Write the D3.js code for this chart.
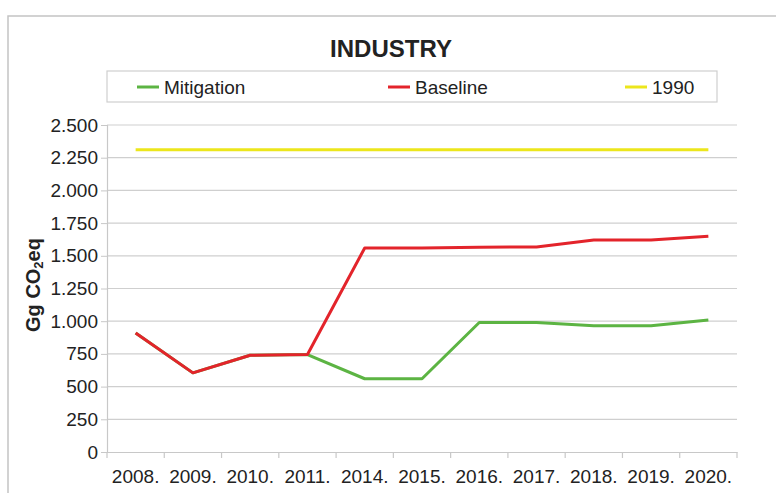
<!DOCTYPE html>
<html><head><meta charset="utf-8">
<script src="https://cdn.jsdelivr.net/npm/d3@7"></script>
<style>
body{margin:0;background:#fff;}
text{font-family:"Liberation Sans",Arial,sans-serif;fill:#222;}
</style></head>
<body><svg id="c" width="776" height="493"></svg>
<script>
const categories = ["2008.","2009.","2010.","2011.","2014.","2015.","2016.","2017.","2018.","2019.","2020."];
const mitigation = [910,605,740,745,560,560,990,990,965,965,1010];
const baseline   = [910,605,740,745,1560,1560,1565,1568,1620,1620,1650];
const ref1990    = [2310,2310,2310,2310,2310,2310,2310,2310,2310,2310,2310];
const yTicks = [0,250,500,750,1000,1250,1500,1750,2000,2250,2500];
const yTickLabels = ["0","250","500","750","1.000","1.250","1.500","1.750","2.000","2.250","2.500"];
const seriesNames = ["Mitigation","Baseline","1990"];
const seriesColors = ["#5cb443","#e3242b","#ece61c"];

const svg = d3.select("#c");
// outer frame
svg.append("rect").attr("x",8).attr("y",16).attr("width",800).attr("height",500)
  .attr("fill","#fff").attr("stroke","#c4c4c4").attr("stroke-width",1.5);

const L=107, R=737, T=125, B=452;
const x = d3.scaleBand().domain(categories).range([L,R]);
const y = d3.scaleLinear().domain([0,2500]).range([B,T]);

// gridlines
svg.append("g").selectAll("line").data(yTicks.filter(d=>d>0)).join("line")
  .attr("x1",L).attr("x2",R).attr("y1",d=>y(d)).attr("y2",d=>y(d))
  .attr("stroke","#cfcfcf").attr("stroke-width",1.2);

// y axis
const yAxis = d3.axisLeft(y).tickValues(yTicks).tickFormat((d,i)=>yTickLabels[i]).tickSize(6).tickPadding(3);
const gy = svg.append("g").attr("transform",`translate(${L},0)`).call(yAxis);
gy.select(".domain").attr("stroke","#c8c8c8").attr("stroke-width",1.2);
gy.selectAll(".tick line").attr("stroke","#c8c8c8");
gy.selectAll("text").style("font-size","19px").attr("fill","#222");

// x axis
const xAxis = d3.axisBottom(x).tickSize(0).tickPadding(18);
const gx = svg.append("g").attr("transform",`translate(0,${B})`).call(xAxis);
gx.select(".domain").attr("stroke","#c8c8c8").attr("stroke-width",1.2);
gx.selectAll("text").style("font-size","19px").attr("fill","#222");
// category boundary ticks
const bounds = categories.map(c=>x(c)).concat([R]);
svg.append("g").selectAll("line").data(bounds).join("line")
  .attr("x1",d=>d).attr("x2",d=>d).attr("y1",B).attr("y2",B+6)
  .attr("stroke","#c8c8c8").attr("stroke-width",1.2);

// lines
const line = d3.line().x((d,i)=>x(categories[i])+x.bandwidth()/2).y(d=>y(d));
const data = [ref1990, mitigation, baseline];
const cols = [seriesColors[2], seriesColors[0], seriesColors[1]];
svg.append("g").selectAll("path").data(data).join("path")
  .attr("d",line).attr("fill","none").attr("stroke",(d,i)=>cols[i])
  .attr("stroke-width",3).attr("stroke-linejoin","round");

// title
svg.append("text").attr("x",391).attr("y",57).attr("text-anchor","middle")
  .style("font-size","24px").style("font-weight","bold").text("INDUSTRY");

// legend
svg.append("rect").attr("x",107).attr("y",71).attr("width",610).attr("height",31)
  .attr("fill","#fff").attr("stroke","#cfcfcf").attr("stroke-width",1.2);
const legX = [137,388,625];
const lg = svg.append("g").selectAll("g").data(seriesNames).join("g")
  .attr("transform",(d,i)=>`translate(${legX[i]},87)`);
lg.append("line").attr("x1",0).attr("x2",22).attr("stroke",(d,i)=>seriesColors[i]).attr("stroke-width",3);
lg.append("text").attr("x",27).attr("dy","0.35em").style("font-size","19px").text(d=>d);

// y title
const yt = svg.append("text").attr("transform","translate(40,285) rotate(-90)")
  .attr("text-anchor","middle").style("font-size","20px").style("font-weight","bold");
yt.append("tspan").text("Gg CO");
yt.append("tspan").style("font-size","13px").attr("dy","3").text("2");
yt.append("tspan").attr("dy","-3").text("eq");
</script></body></html>
